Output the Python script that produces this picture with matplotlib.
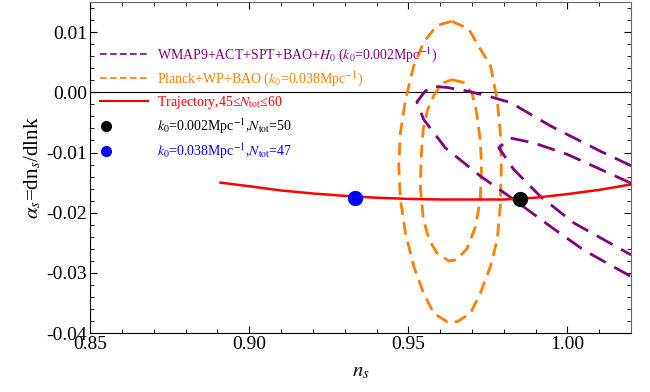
import numpy as np
import matplotlib
matplotlib.use('Agg')
import matplotlib.pyplot as plt
from matplotlib.lines import Line2D
from matplotlib.legend_handler import HandlerBase
from matplotlib.ticker import MultipleLocator, FormatStrFormatter

# trajectory, 45 <= N_tot <= 60
traj_ns = [0.891, 0.90, 0.91, 0.92, 0.93, 0.94, 0.95, 0.96, 0.97, 0.98, 0.99, 1.00, 1.01, 1.02]
traj_as = [-0.0150, -0.0156, -0.0163, -0.0168, -0.0172, -0.0175, -0.0177, -0.0178,
           -0.0178, -0.0178, -0.0175, -0.0169, -0.0162, -0.0153]

# the two points on it
pt_black = (0.9852, -0.0178)
pt_blue = (0.9333, -0.0175)

# Planck+WP+BAO contours (closed)
planck_out_ns = [0.9637, 0.9690, 0.9726, 0.9758, 0.9779, 0.9789, 0.9792, 0.9789, 0.9779,
                 0.9758, 0.9726, 0.9695, 0.9653, 0.9622, 0.9580, 0.9548, 0.9517, 0.9491,
                 0.9475, 0.9470, 0.9475, 0.9491, 0.9517, 0.9548, 0.9590, 0.9637]
planck_out_as = [0.0118, 0.0105, 0.0072, 0.0044, -0.0012, -0.0067, -0.0123, -0.0189, -0.0245,
                 -0.0289, -0.0334, -0.0367, -0.0381, -0.0381, -0.0367, -0.0334, -0.0289, -0.0234,
                 -0.0178, -0.0123, -0.0067, -0.0012, 0.0044, 0.0083, 0.0111, 0.0118]
planck_in_ns = [0.9637, 0.9674, 0.9700, 0.9715, 0.9726, 0.9730, 0.9726, 0.9711, 0.9685, 0.9653,
                0.9627, 0.9590, 0.9565, 0.9547, 0.9538, 0.9540, 0.9547, 0.9560, 0.9580, 0.9606, 0.9637]
planck_in_as = [0.0021, 0.0016, -0.0001, -0.0035, -0.0080, -0.0123, -0.0178, -0.0223, -0.0259, -0.0278,
                -0.0280, -0.0267, -0.0245, -0.0210, -0.0160, -0.0110, -0.0060, -0.0030, -0.0005, 0.0015, 0.0021]

# WMAP9+ACT+SPT+BAO+H0 contours (open, run off the right edge)
wmap_out_ns = [1.0200, 1.0104, 0.9947, 0.9821, 0.9748, 0.9685, 0.9622, 0.9580, 0.9553, 0.9527,
               0.9548, 0.9616, 0.9726, 0.9831, 0.9947, 1.0051, 1.0200]
wmap_out_as = [-0.0122, -0.0098, -0.0056, -0.0017, -0.0006, 0.0002, 0.0008, 0.0010, 0.0002, -0.0016,
               -0.0045, -0.0092, -0.0139, -0.0178, -0.0223, -0.0262, -0.0306]
wmap_in_ns = [1.0200, 1.0104, 0.9999, 0.9894, 0.9821, 0.9784, 0.9831, 0.9915, 1.0020, 1.0200]
wmap_in_as = [-0.0151, -0.0128, -0.0103, -0.0084, -0.0076, -0.0092, -0.0128, -0.0173, -0.0217, -0.0270]

purple = '#800080'
orange = '#ff8000'

plt.rcParams['font.family'] = ['Liberation Serif', 'DejaVu Serif']
plt.rcParams['mathtext.fontset'] = 'stix'


class LeftDot(HandlerBase):
    def create_artists(self, legend, orig_handle, xdescent, ydescent, width, height, fontsize, trans):
        dot = Line2D([-xdescent + 0.12 * width], [height / 2 - ydescent], ls='none', marker='o',
                     color=orig_handle.get_color(), markersize=orig_handle.get_markersize(),
                     transform=trans)
        return [dot]


fig = plt.figure(figsize=(6.5, 3.92), dpi=100)
ax = fig.add_axes([0.1385, 0.150, 0.8325, 0.845])

ax.axhline(0, color='black', lw=0.8, zorder=1)

ax.plot(planck_out_ns, planck_out_as, color=orange, lw=2, dashes=(4.6, 2.6))
ax.plot(planck_in_ns, planck_in_as, color=orange, lw=2, dashes=(4.6, 2.6))
ax.plot(wmap_out_ns, wmap_out_as, color=purple, lw=2, dashes=(6.5, 3.5))
ax.plot(wmap_in_ns, wmap_in_as, color=purple, lw=2, dashes=(6.5, 3.5))
ax.plot(traj_ns, traj_as, color='red', lw=1.8, zorder=4)
ax.plot(*pt_black, 'o', color='black', ms=10, zorder=5)
ax.plot(*pt_blue, 'o', color='blue', ms=10, zorder=5)

ax.set_xlim(0.85, 1.02)
ax.set_ylim(-0.04, 0.015)
ax.xaxis.set_major_locator(MultipleLocator(0.05))
ax.xaxis.set_minor_locator(MultipleLocator(0.01))
ax.yaxis.set_major_locator(MultipleLocator(0.01))
ax.yaxis.set_minor_locator(MultipleLocator(0.002))
ax.xaxis.set_major_formatter(FormatStrFormatter('%.2f'))
ax.yaxis.set_major_formatter(FormatStrFormatter('%.2f'))
ax.tick_params(which='both', direction='in', top=True, right=True, labelsize=14, pad=2)
ax.tick_params(which='major', length=5)
ax.tick_params(which='minor', length=3)
for side in ['top', 'right']:
    ax.spines[side].set_color('#666666')

ax.set_xlabel(r'$n_s$', fontsize=15, labelpad=7)
ax.set_ylabel(r'$\alpha_s$=dn$_s$/dlnk', fontsize=15, labelpad=2)

handles = [
    Line2D([], [], color=purple, lw=1.2, dashes=(4, 2)),
    Line2D([], [], color=orange, lw=1.2, dashes=(4, 2)),
    Line2D([], [], color='red', lw=1.5),
    Line2D([], [], ls='none', marker='o', color='black', ms=7),
    Line2D([], [], ls='none', marker='o', color='blue', ms=7),
]
labels = [
    r'WMAP9+ACT+SPT+BAO+$H_0$ ($k_0$=0.002Mpc$^{-1}$)',
    r'Planck+WP+BAO ($k_0$=0.038Mpc$^{-1}$)',
    r'Trajectory,45≤$N_{\rm tot}$≤60',
    r'$k_0$=0.002Mpc$^{-1}$,$N_{\rm tot}$=50',
    r'$k_0$=0.038Mpc$^{-1}$,$N_{\rm tot}$=47',
]
colors = [purple, orange, 'red', 'black', 'blue']
leg = ax.legend(handles, labels, loc='upper left', bbox_to_anchor=(0.018, 0.870),
                frameon=False, fontsize=10, handlelength=3.45, handletextpad=0.65,
                labelspacing=0.40, borderpad=0, borderaxespad=0,
                handler_map={handles[3]: LeftDot(), handles[4]: LeftDot()})
for t, c in zip(leg.get_texts(), colors):
    t.set_color(c)

fig.savefig('out.png', dpi=100)
